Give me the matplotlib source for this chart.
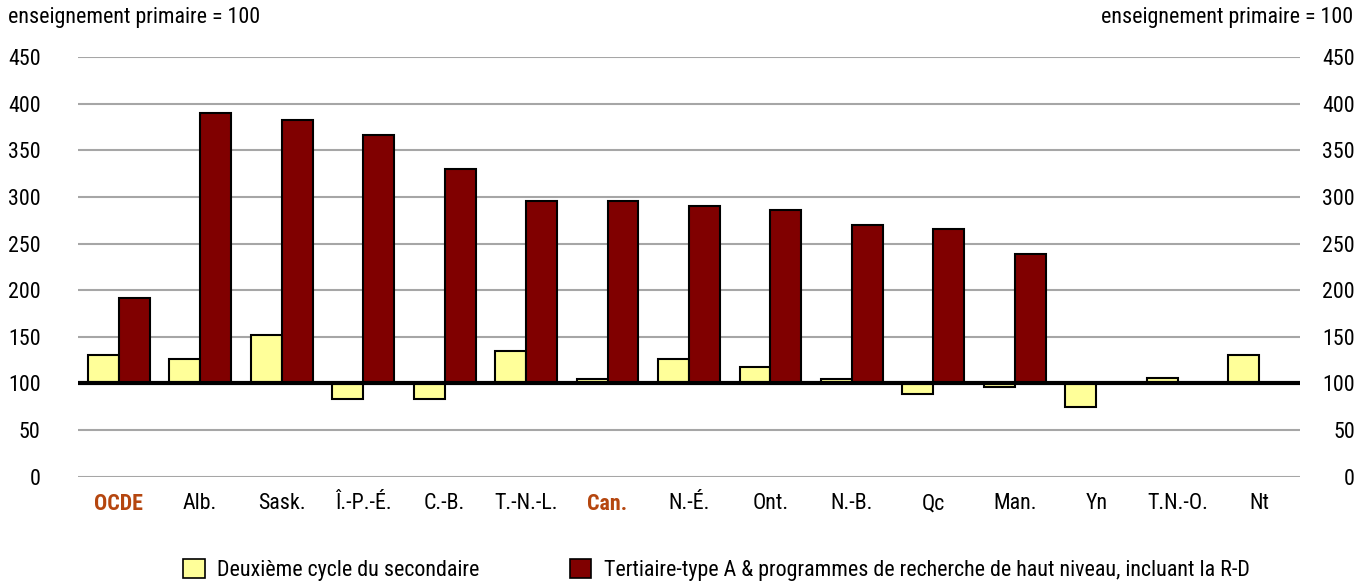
import numpy as np
import matplotlib
matplotlib.use("Agg")
from matplotlib import pyplot as plt
from matplotlib.patches import Patch
import matplotlib.transforms as mtransforms

plt.rcParams["font.family"] = ["Roboto Condensed", "Liberation Sans", "DejaVu Sans"]

# data, relative to primary education = 100
regions = ["OCDE", "Alb.", "Sask.", "Î.-P.-É.", "C.-B.", "T.-N.-L.", "Can.",
           "N.-É.", "Ont.", "N.-B.", "Qc", "Man.", "Yn", "T.N.-O.", "Nt"]
secondaire = [130, 126, 152, 83, 83, 135, 105, 126, 118, 105, 89, 96, 75, 106, 130]
tertiaire = [192, 390, 382, 366, 330, 296, 296, 290, 286, 270, 266, 239,
             np.nan, np.nan, np.nan]
highlight = ["OCDE", "Can."]
yticks = [0, 50, 100, 150, 200, 250, 300, 350, 400, 450]

base = 100
yellow = "#FFFF99"
red = "#800000"
fs = 15.8

fig = plt.figure(figsize=(13.67, 5.83), dpi=100)
ax = fig.add_axes([78 / 1367, 1 - 476.7 / 583, 1222 / 1367, 419.7 / 583])

x = np.arange(len(regions))
w = 0.38
sec = np.array(secondaire, dtype=float)
ter = np.array(tertiaire, dtype=float)
ax.bar(x - w / 2, sec - base, w, bottom=base, color=yellow,
       edgecolor="black", linewidth=1.5, zorder=3)
ok = ~np.isnan(ter)
ax.bar(x[ok] + w / 2, ter[ok] - base, w, bottom=base, color=red,
       edgecolor="black", linewidth=1.5, zorder=3)

ax.axhline(base, color="black", linewidth=3, zorder=4)
ax.set_xlim(-0.5, len(regions) - 0.5)
ax.set_ylim(0, 450)
ax.set_yticks(yticks)
ax.yaxis.grid(True, color="#a6a6a6", linewidth=1.5, zorder=0)
ax.set_axisbelow(True)
for s in ax.spines.values():
    s.set_visible(False)

# left labels end ~38px left of the axes, right ones end ~55px right of it
ax.tick_params(axis="y", length=0, labelsize=fs, pad=27, labelright=True)
off = mtransforms.ScaledTranslation(55 / 100 - 27 / 72, 0, fig.dpi_scale_trans)
for t in ax.yaxis.get_major_ticks():
    t.label2.set_horizontalalignment("right")
    t.label2.set_transform(t.label2.get_transform() + off)

ax.set_xticks(x)
ax.set_xticklabels(regions)
ax.tick_params(axis="x", length=0, labelsize=fs, pad=12)
for lab in ax.get_xticklabels():
    if lab.get_text() in highlight:
        lab.set_color("#B5460F")
        lab.set_fontweight("bold")

fig.text(8 / 1367, 1 - 18 / 583, "enseignement primaire = 100", fontsize=fs,
         ha="left", va="center")
fig.text(1353 / 1367, 1 - 18 / 583, "enseignement primaire = 100", fontsize=fs,
         ha="right", va="center")

handles = [Patch(facecolor=yellow, edgecolor="black", linewidth=1.2),
           Patch(facecolor=red, edgecolor="black", linewidth=1.2)]
fig.legend(handles, ["Deuxième cycle du secondaire",
                     "Tertiaire-type A & programmes de recherche de haut niveau, incluant la R-D"],
           loc="center", bbox_to_anchor=(0.524, 1 - 570 / 583), ncol=2,
           frameon=False, fontsize=fs, handlelength=1.0, handleheight=1.0,
           handletextpad=0.55, columnspacing=4.1, borderaxespad=0, borderpad=0)

fig.savefig("out.png", dpi=100)
